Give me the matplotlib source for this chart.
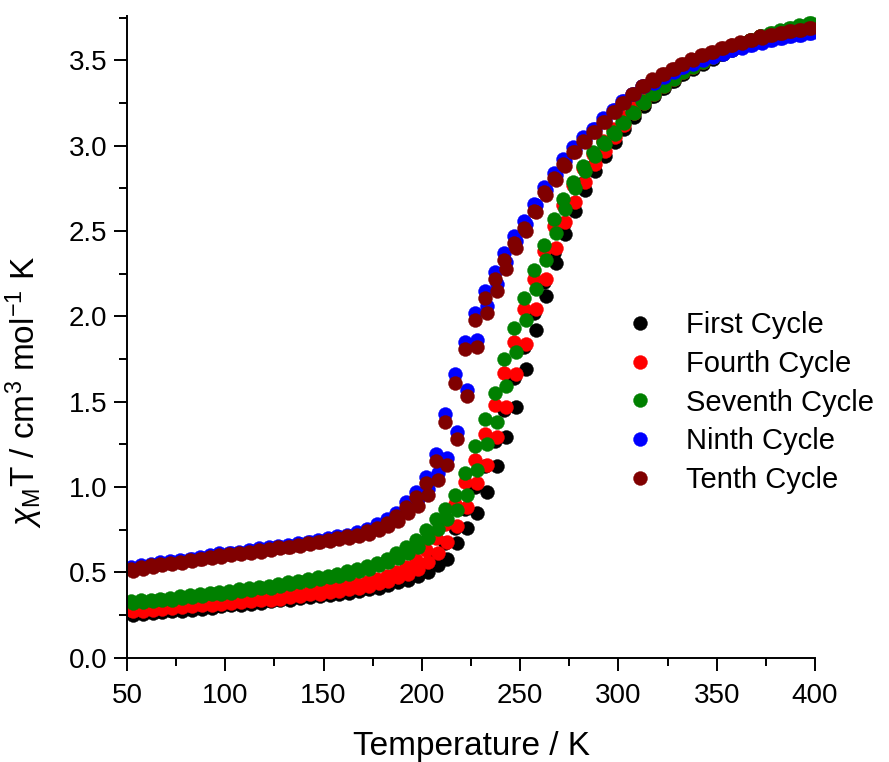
import numpy as np
import matplotlib
matplotlib.use("Agg")
import matplotlib.pyplot as plt
from matplotlib.ticker import MultipleLocator

plt.rcParams['font.family'] = ['Liberation Sans', 'DejaVu Sans']
plt.rcParams['mathtext.fontset'] = 'custom'
plt.rcParams['mathtext.rm'] = 'Liberation Sans'
plt.rcParams['mathtext.it'] = 'Liberation Sans:italic'

# temperature grids of the two sweeps (K)
T_a = [52, 57, 62, 67, 72, 77, 82, 87, 92, 97, 102, 107, 112, 117, 122, 127, 132, 137, 142, 147,
       152, 157, 162, 167, 172, 177, 182, 187, 192, 197, 202, 207, 212, 217, 222, 227, 232, 237, 242, 247,
       252, 257, 262, 267, 272, 277, 282, 287, 292, 297, 302, 307, 312, 317, 322, 327, 332, 337, 342, 347,
       352, 357, 362, 367, 372, 377, 382, 387, 392, 397]
T_b = [53, 58, 63, 68, 73, 78, 83, 88, 93, 98, 103, 108, 113, 118, 123, 128, 133, 138, 143, 148,
       153, 158, 163, 168, 173, 178, 183, 188, 193, 198, 203, 208, 213, 218, 223, 228, 233, 238, 243, 248,
       253, 258, 263, 268, 273, 278, 283, 288, 293, 298, 303, 308, 313, 318, 323, 328, 333, 338, 343, 348,
       353, 358, 363, 368, 373, 378, 383, 388, 393, 398]

# chi_M T values (cm3 mol-1 K)
first_a = [0.26, 0.265, 0.27, 0.275, 0.28, 0.285, 0.29, 0.295, 0.30, 0.31, 0.315, 0.32, 0.325, 0.33, 0.34, 0.345, 0.35, 0.36, 0.365, 0.37,
           0.38, 0.385, 0.39, 0.40, 0.41, 0.425, 0.44, 0.46, 0.48, 0.51, 0.55, 0.60, 0.67, 0.76, 0.87, 1.00, 1.12, 1.27, 1.45, 1.64,
           1.82, 2.02, 2.20, 2.37, 2.53, 2.66, 2.78, 2.88, 2.96, 3.04, 3.11, 3.18, 3.24, 3.29, 3.34, 3.38, 3.42, 3.46, 3.49, 3.52,
           3.54, 3.57, 3.59, 3.61, 3.62, 3.64, 3.65, 3.67, 3.68, 3.69]
first_b = [0.25, 0.255, 0.26, 0.265, 0.27, 0.275, 0.28, 0.285, 0.29, 0.30, 0.305, 0.31, 0.315, 0.32, 0.33, 0.335, 0.34, 0.35, 0.355, 0.36,
           0.365, 0.37, 0.38, 0.39, 0.40, 0.41, 0.425, 0.44, 0.455, 0.475, 0.50, 0.54, 0.58, 0.67, 0.76, 0.85, 0.97, 1.12, 1.29, 1.47,
           1.69, 1.92, 2.12, 2.31, 2.48, 2.62, 2.74, 2.85, 2.94, 3.02, 3.10, 3.17, 3.23, 3.29, 3.34, 3.38, 3.42, 3.45, 3.48, 3.51,
           3.54, 3.56, 3.58, 3.60, 3.62, 3.64, 3.65, 3.67, 3.68, 3.69]
fourth_a = [0.28, 0.285, 0.29, 0.295, 0.30, 0.305, 0.31, 0.315, 0.32, 0.325, 0.33, 0.335, 0.34, 0.345, 0.35, 0.36, 0.365, 0.375, 0.38, 0.39,
            0.40, 0.41, 0.42, 0.43, 0.445, 0.46, 0.48, 0.50, 0.53, 0.57, 0.63, 0.70, 0.78, 0.90, 1.03, 1.16, 1.31, 1.48, 1.67, 1.85,
            2.04, 2.22, 2.38, 2.53, 2.65, 2.77, 2.87, 2.95, 3.03, 3.10, 3.17, 3.23, 3.28, 3.33, 3.37, 3.41, 3.45, 3.48, 3.51, 3.54,
            3.56, 3.58, 3.60, 3.62, 3.64, 3.65, 3.67, 3.68, 3.69, 3.70]
fourth_b = [0.27, 0.275, 0.28, 0.285, 0.29, 0.295, 0.30, 0.305, 0.31, 0.315, 0.32, 0.325, 0.33, 0.335, 0.34, 0.345, 0.355, 0.36, 0.37, 0.375,
            0.385, 0.39, 0.40, 0.41, 0.42, 0.435, 0.45, 0.47, 0.49, 0.52, 0.56, 0.61, 0.68, 0.77, 0.88, 1.02, 1.13, 1.29, 1.47, 1.66,
            1.84, 2.04, 2.22, 2.40, 2.55, 2.67, 2.79, 2.89, 2.97, 3.05, 3.12, 3.19, 3.25, 3.30, 3.35, 3.39, 3.43, 3.46, 3.49, 3.52,
            3.55, 3.57, 3.59, 3.61, 3.63, 3.65, 3.66, 3.68, 3.69, 3.70]
seventh_a = [0.33, 0.335, 0.34, 0.345, 0.35, 0.36, 0.365, 0.37, 0.38, 0.385, 0.39, 0.40, 0.405, 0.415, 0.42, 0.43, 0.44, 0.45, 0.46, 0.47,
             0.48, 0.49, 0.505, 0.52, 0.535, 0.555, 0.58, 0.61, 0.645, 0.69, 0.75, 0.81, 0.87, 0.95, 1.08, 1.24, 1.40, 1.55, 1.75, 1.93,
             2.11, 2.27, 2.42, 2.57, 2.69, 2.79, 2.88, 2.96, 3.02, 3.08, 3.14, 3.20, 3.26, 3.31, 3.36, 3.40, 3.44, 3.47, 3.50, 3.53,
             3.56, 3.58, 3.60, 3.62, 3.64, 3.66, 3.68, 3.69, 3.71, 3.72]
seventh_b = [0.32, 0.325, 0.33, 0.335, 0.34, 0.35, 0.355, 0.36, 0.37, 0.375, 0.38, 0.39, 0.395, 0.405, 0.41, 0.42, 0.43, 0.44, 0.45, 0.46,
             0.47, 0.48, 0.49, 0.505, 0.52, 0.54, 0.56, 0.585, 0.615, 0.65, 0.70, 0.755, 0.81, 0.865, 0.95, 1.10, 1.25, 1.38, 1.59, 1.79,
             1.98, 2.16, 2.33, 2.49, 2.63, 2.75, 2.85, 2.94, 3.01, 3.07, 3.13, 3.19, 3.25, 3.30, 3.35, 3.39, 3.43, 3.46, 3.49, 3.52,
             3.55, 3.57, 3.60, 3.62, 3.64, 3.66, 3.67, 3.69, 3.70, 3.72]
ninth_a = [0.53, 0.54, 0.55, 0.56, 0.565, 0.57, 0.58, 0.59, 0.60, 0.61, 0.615, 0.62, 0.63, 0.64, 0.645, 0.655, 0.66, 0.67, 0.68, 0.69,
           0.70, 0.71, 0.72, 0.735, 0.755, 0.78, 0.81, 0.85, 0.91, 0.97, 1.06, 1.19, 1.43, 1.66, 1.85, 2.02, 2.15, 2.26, 2.37, 2.47,
           2.56, 2.66, 2.76, 2.84, 2.92, 2.99, 3.05, 3.10, 3.16, 3.21, 3.26, 3.30, 3.35, 3.38, 3.41, 3.44, 3.46, 3.49, 3.51, 3.53,
           3.55, 3.56, 3.58, 3.59, 3.61, 3.62, 3.63, 3.64, 3.65, 3.66]
ninth_b = [0.52, 0.53, 0.54, 0.55, 0.56, 0.565, 0.575, 0.585, 0.595, 0.60, 0.61, 0.615, 0.625, 0.63, 0.64, 0.65, 0.655, 0.665, 0.675, 0.685,
           0.695, 0.705, 0.715, 0.725, 0.74, 0.765, 0.79, 0.83, 0.88, 0.93, 0.99, 1.08, 1.17, 1.32, 1.57, 1.86, 2.06, 2.19, 2.32, 2.44,
           2.54, 2.65, 2.74, 2.83, 2.91, 2.98, 3.04, 3.10, 3.15, 3.21, 3.26, 3.30, 3.35, 3.37, 3.40, 3.43, 3.46, 3.48, 3.50, 3.52,
           3.54, 3.56, 3.57, 3.59, 3.60, 3.62, 3.63, 3.64, 3.65, 3.66]
tenth_a = [0.52, 0.53, 0.54, 0.55, 0.555, 0.56, 0.57, 0.58, 0.59, 0.60, 0.605, 0.61, 0.62, 0.63, 0.635, 0.645, 0.65, 0.66, 0.67, 0.68,
           0.69, 0.70, 0.71, 0.72, 0.74, 0.76, 0.79, 0.83, 0.88, 0.94, 1.02, 1.15, 1.38, 1.61, 1.81, 1.98, 2.11, 2.22, 2.33, 2.43,
           2.52, 2.62, 2.73, 2.81, 2.89, 2.96, 3.03, 3.08, 3.14, 3.20, 3.25, 3.30, 3.35, 3.39, 3.42, 3.45, 3.48, 3.51, 3.53, 3.55,
           3.57, 3.59, 3.61, 3.62, 3.64, 3.65, 3.66, 3.67, 3.68, 3.69]
tenth_b = [0.51, 0.52, 0.53, 0.54, 0.55, 0.555, 0.565, 0.575, 0.585, 0.59, 0.60, 0.605, 0.615, 0.62, 0.63, 0.64, 0.645, 0.655, 0.665, 0.675,
           0.685, 0.695, 0.70, 0.71, 0.725, 0.745, 0.77, 0.80, 0.845, 0.89, 0.95, 1.04, 1.13, 1.28, 1.53, 1.82, 2.02, 2.15, 2.28, 2.40,
           2.50, 2.61, 2.71, 2.80, 2.88, 2.96, 3.02, 3.08, 3.14, 3.20, 3.25, 3.30, 3.35, 3.38, 3.42, 3.45, 3.48, 3.50, 3.53, 3.55,
           3.57, 3.59, 3.60, 3.62, 3.63, 3.65, 3.66, 3.67, 3.68, 3.69]

labels = ['First Cycle', 'Fourth Cycle', 'Seventh Cycle', 'Ninth Cycle', 'Tenth Cycle']
colors = ['#000000', '#ff0000', '#008000', '#0000ff', '#800000']
series = [(first_a, first_b), (fourth_a, fourth_b), (seventh_a, seventh_b),
          (ninth_a, ninth_b), (tenth_a, tenth_b)]

fig = plt.figure(figsize=(8.89, 7.62), dpi=100)
ax = fig.add_axes([0.1429, 0.1371, 0.7739, 0.8419])

for (ya, yb), c, lab in zip(series, colors, labels):
    ax.plot(T_a, ya, 'o', ms=10, color=c, mec=c, mew=0.3, label=lab)
    ax.plot(T_b, yb, 'o', ms=10, color=c, mec=c, mew=0.3)

ax.set_xlim(50, 400)
ax.set_ylim(0, 3.76)
ax.xaxis.set_major_locator(MultipleLocator(50))
ax.xaxis.set_minor_locator(MultipleLocator(25))
ax.yaxis.set_major_locator(MultipleLocator(0.5))
ax.yaxis.set_minor_locator(MultipleLocator(0.25))
ax.yaxis.set_major_formatter(matplotlib.ticker.FormatStrFormatter('%.1f'))

for s in ['top', 'right']:
    ax.spines[s].set_visible(False)
for s in ['left', 'bottom']:
    ax.spines[s].set_linewidth(1.4)
ax.tick_params(which='major', direction='out', length=9.5, width=1.4, labelsize=20, pad=4.5)
ax.tick_params(axis='x', which='major', pad=9)
ax.tick_params(which='minor', direction='out', length=6, width=1.4)

ax.set_xlabel('Temperature / K', fontsize=24, labelpad=16)
ax.set_ylabel(r'$\chi_{\mathrm{M}}$T / cm$^{3}$ mol$^{-1}$ K', fontsize=24)
ax.yaxis.set_label_coords(-0.119, 0.414)

handles, labs = ax.get_legend_handles_labels()
fig.legend(handles, labs, loc='upper left', bbox_to_anchor=(628 / 889, 1 - 311 / 762),
           frameon=False, fontsize=21, handlelength=0.8, handletextpad=1.2,
           labelspacing=0.37, borderpad=0, borderaxespad=0, numpoints=1)

fig.savefig('out.png', dpi=100)
